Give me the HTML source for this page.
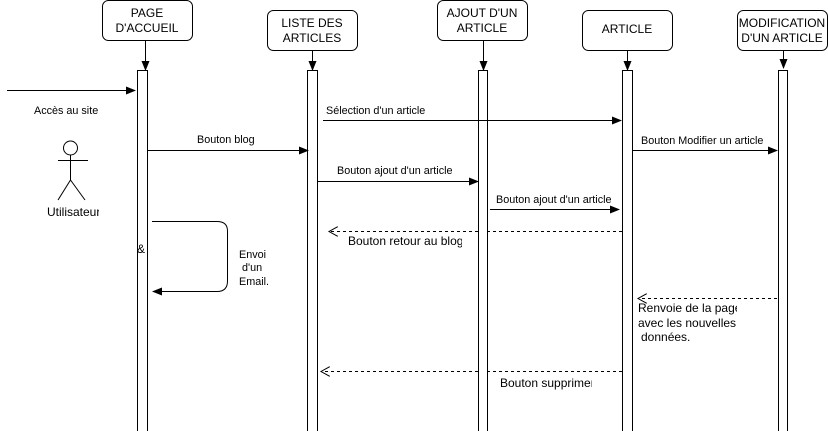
<!DOCTYPE html>
<html><head><meta charset="utf-8"><style>
html,body{margin:0;padding:0;background:#fff;width:828px;height:431px;overflow:hidden}
text{font-family:"Liberation Sans",Arial,sans-serif;fill:#000}
</style></head><body>
<svg width="828" height="431" viewBox="0 0 828 431" xmlns="http://www.w3.org/2000/svg">
<defs>
<marker id="a" markerWidth="10" markerHeight="8" refX="9" refY="4" orient="auto" markerUnits="userSpaceOnUse"><path d="M0,0 L10,4 L0,8 Z" fill="#000"/></marker>
<marker id="o" markerWidth="11" markerHeight="10" refX="9" refY="5" orient="auto" markerUnits="userSpaceOnUse"><path d="M0,0 L9,5 L0,10" fill="none" stroke="#000"/></marker>
</defs>
<g stroke="#000" stroke-width="1" fill="#fff">
<rect x="102.5" y="0.5" width="90" height="40" rx="6"/>
<rect x="267.5" y="10.5" width="90" height="40" rx="6"/>
<rect x="437.5" y="0.5" width="90" height="40" rx="6"/>
<rect x="582.5" y="10.5" width="90" height="40" rx="6"/>
<rect x="737.5" y="10.5" width="90" height="40" rx="6"/>
</g>
<g stroke="#000" fill="none">
<line x1="145.5" y1="40" x2="145.5" y2="70" marker-end="url(#a)"/>
<line x1="312.5" y1="50" x2="312.5" y2="70" marker-end="url(#a)"/>
<line x1="483.5" y1="40" x2="483.5" y2="70" marker-end="url(#a)"/>
<line x1="627.5" y1="50" x2="627.5" y2="70" marker-end="url(#a)"/>
<line x1="783.5" y1="50" x2="783.5" y2="68" marker-end="url(#a)"/>
<line x1="622" y1="231.5" x2="329" y2="231.5" stroke-dasharray="3,3" marker-end="url(#o)"/>
<line x1="777" y1="298.5" x2="638" y2="298.5" stroke-dasharray="3,3" marker-end="url(#o)"/>
<line x1="622" y1="371.5" x2="321" y2="371.5" stroke-dasharray="3,3" marker-end="url(#o)"/>
</g>
<g stroke="#000" fill="#fff">
<rect x="137.5" y="70.5" width="10" height="365"/>
<rect x="307.5" y="70.5" width="10" height="365"/>
<rect x="478.5" y="70.5" width="9" height="365"/>
<rect x="622.5" y="70.5" width="10" height="365"/>
<rect x="778.5" y="70.5" width="9" height="365"/>
</g>
<g stroke="#000" fill="none">
<line x1="7" y1="90.5" x2="135" y2="90.5" marker-end="url(#a)"/>
<line x1="323" y1="120.5" x2="621" y2="120.5" marker-end="url(#a)"/>
<line x1="148" y1="150.5" x2="308" y2="150.5" marker-end="url(#a)"/>
<line x1="632" y1="150.5" x2="777" y2="150.5" marker-end="url(#a)"/>
<line x1="318" y1="181.5" x2="478" y2="181.5" marker-end="url(#a)"/>
<line x1="490" y1="209.5" x2="619" y2="209.5" marker-end="url(#a)"/>
<path d="M152,221.5 H217 Q227.5,221.5 227.5,231 V281 Q227.5,291.5 217,291.5 H153" marker-end="url(#a)"/>
<circle cx="70.5" cy="148" r="7"/>
<line x1="70.5" y1="155" x2="70.5" y2="180"/>
<line x1="58" y1="160.5" x2="88" y2="160.5"/>
<line x1="70.5" y1="180" x2="58" y2="200"/>
<line x1="70.5" y1="180" x2="85" y2="200"/>
</g>
<g font-size="12" text-anchor="middle">
<text x="147" y="17">PAGE</text><text x="147" y="32">D'ACCUEIL</text>
<text x="312" y="27">LISTE DES</text><text x="312" y="42">ARTICLES</text>
<text x="482" y="17">AJOUT D'UN</text><text x="482" y="32">ARTICLE</text>
<text x="627" y="33">ARTICLE</text>
<text x="782" y="27">MODIFICATION</text><text x="782" y="42">D'UN ARTICLE</text>
</g>
<g font-size="10.8">
<text x="34" y="114">Accès au site</text>
<text x="326" y="114">Sélection d'un article</text>
<text x="197" y="143">Bouton blog</text>
<text x="641" y="144">Bouton Modifier un article</text>
<text x="337" y="174">Bouton ajout d'un article</text>
<text x="496" y="203">Bouton ajout d'un article</text>
<text x="239" y="258">Envoi</text>
<text x="242" y="271">d'un</text>
<text x="239" y="285">Email.</text>
</g>
<g font-size="12">
<text x="47" y="216">Utilisateur</text>
<text x="137" y="253">&amp;</text>
<text x="348" y="245">Bouton retour au blog</text>
<text x="638" y="312">Renvoie de la page</text>
<text x="638" y="327">avec les nouvelles</text>
<text x="641" y="341">données.</text>
<text x="500" y="387">Bouton supprimer</text>
</g>
<rect x="99" y="200" width="36" height="20" fill="#fff"/>
<rect x="462" y="232" width="15" height="16" fill="#fff"/>
<rect x="592" y="374" width="29" height="16" fill="#fff"/>
<rect x="737" y="300" width="40" height="16" fill="#fff"/>
</svg>
</body></html>
